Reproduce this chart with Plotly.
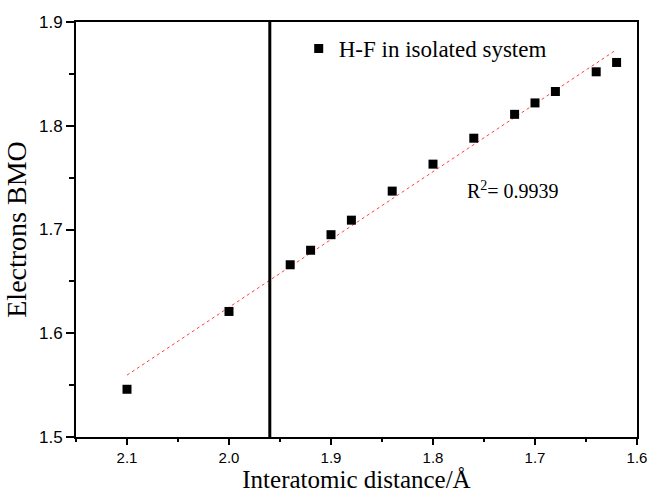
import numpy as np
import plotly.graph_objects as go

# Data
distance = [2.10, 2.00, 1.94, 1.92, 1.90, 1.88, 1.84, 1.80, 1.76, 1.72, 1.70, 1.68, 1.64, 1.62]
bmo = [1.546, 1.621, 1.666, 1.680, 1.695, 1.709, 1.737, 1.763, 1.788, 1.811, 1.822, 1.833, 1.852, 1.861]
series_name = "H-F in isolated system"
r2_text = "R<sup>2</sup>= 0.9939"
threshold_x = 1.96
x_ticks = [2.1, 2.0, 1.9, 1.8, 1.7, 1.6]
y_ticks = [1.5, 1.6, 1.7, 1.8, 1.9]

# Linear fit
coef = np.polyfit(distance, bmo, 1)
fit_x = np.array([max(distance), min(distance)])
fit_y = np.polyval(coef, fit_x)

fig = go.Figure()
fig.add_trace(go.Scatter(
    x=fit_x, y=fit_y, mode="lines",
    line=dict(color="#ff4040", width=1, dash="dot"),
    showlegend=False, hoverinfo="skip"))
fig.add_trace(go.Scatter(
    x=distance, y=bmo, mode="markers", name=series_name,
    marker=dict(symbol="square", size=9, color="black")))

fig.add_vline(x=threshold_x, line=dict(color="black", width=3))

fig.add_annotation(x=1.769, y=1.738, xref="x", yref="y", text=r2_text,
                   showarrow=False, xanchor="left", yanchor="middle",
                   font=dict(family="Liberation Serif", size=20, color="black"))

axis_common = dict(
    showgrid=False, zeroline=False, showline=True, linecolor="black",
    linewidth=2, mirror=True, ticks="outside", tickcolor="black",
    tickwidth=1.5, automargin=False,
)

fig.update_xaxes(
    range=[2.15, 1.6], tickvals=x_ticks,
    ticktext=[f"{v:.1f}" for v in x_ticks], ticklen=6,
    tickfont=dict(family="Liberation Sans", size=15, color="black"),
    minor=dict(ticks="outside", ticklen=3, dtick=0.05, tick0=1.6, tickcolor="black"),
    title=dict(text="Interatomic distance/Å", standoff=4,
               font=dict(family="Liberation Serif", size=25, color="black")),
    **axis_common)
fig.update_yaxes(
    range=[1.5, 1.9], tickvals=y_ticks,
    ticktext=[f"{v:.1f}" for v in y_ticks], ticklen=8,
    tickfont=dict(family="Liberation Sans", size=17, color="black"),
    minor=dict(ticks="outside", ticklen=5, dtick=0.05, tick0=1.5, tickcolor="black"),
    title=dict(text="Electrons BMO", standoff=4,
               font=dict(family="Liberation Serif", size=28, color="black")),
    **axis_common)

fig.update_layout(
    width=651, height=493,
    margin=dict(l=76, r=14, t=22, b=56),
    plot_bgcolor="white", paper_bgcolor="white",
    legend=dict(x=0.397, y=0.988, xanchor="left", yanchor="top",
                bgcolor="rgba(0,0,0,0)",
                font=dict(family="Liberation Serif", size=23, color="black")),
)

fig.write_html("out.html")
